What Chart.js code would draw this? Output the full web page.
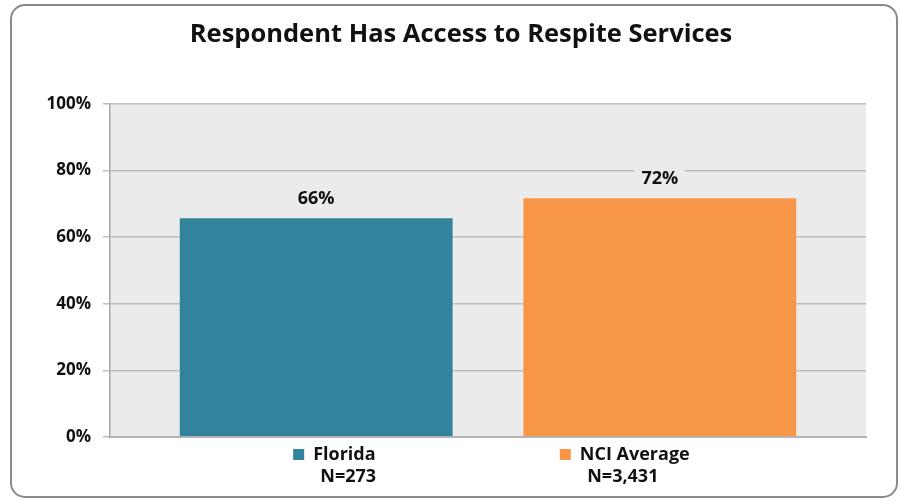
<!DOCTYPE html>
<html>
<head>
    <title>Respite services</title>
    <script src="https://cdn.jsdelivr.net/npm/chart.js@4.4.0/dist/chart.umd.min.js"></script>
    <style type="text/css">
      body { margin: 0; background: #fff; }
      #chart-container { width: 900px; height: 501px; position: relative; }
    </style>
</head>
<body>
  <div id="chart-container">
    <canvas id="mycanvas"></canvas>
  </div>
<script>
var categories = ['Florida', 'NCI Average'];
var sampleSizes = ['N=273', 'N=3,431'];
var values = [66, 72];
var barColors = ['#31849b', '#f79646'];
var yTicks = [0, 20, 40, 60, 80, 100];
var chartTitle = 'Respondent Has Access to Respite Services';

var FONT = '"Open Sans", Lato, sans-serif';

// rounded frame, title and grey plot background
var framePlugin = {
  id: 'frame',
  beforeDraw: function(chart) {
    var c = chart.ctx, a = chart.chartArea;
    c.save();
    c.fillStyle = '#ffffff';
    c.fillRect(0, 0, chart.width, chart.height);
    c.strokeStyle = '#8a8a8a';
    c.lineWidth = 2;
    c.beginPath();
    c.roundRect(11, 5, 886, 492, 14);
    c.stroke();
    c.fillStyle = '#ebebeb';
    c.fillRect(a.left, a.top, a.right - a.left, a.bottom - a.top);
    c.fillStyle = '#111';
    c.font = 'bold 25.5px ' + FONT;
    c.textAlign = 'center';
    c.textBaseline = 'middle';
    c.fillText(chartTitle, 461, 35);
    c.restore();
  }
};

// value labels over bars
var valueLabels = {
  id: 'valueLabels',
  afterDatasetsDraw: function(chart) {
    var c = chart.ctx;
    var meta = chart.getDatasetMeta(0);
    c.save();
    c.font = 'bold 18px ' + FONT;
    c.textAlign = 'center';
    c.textBaseline = 'middle';
    meta.data.forEach(function(bar, i) {
      var txt = values[i] + '%';
      var w = c.measureText(txt).width + 14;
      var y = bar.y - 18;
      c.fillStyle = '#ebebeb';
      c.fillRect(bar.x - w / 2, y - 10, w, 20);
      c.fillStyle = '#111';
      c.fillText(txt, bar.x, y);
    });
    c.restore();
  }
};

// category labels with colour key
var keyLabels = {
  id: 'keyLabels',
  afterDraw: function(chart) {
    var c = chart.ctx, x = chart.scales.x;
    var shift = [-23, -100];
    var nShift = [32, -37];
    c.save();
    c.font = 'bold 18px ' + FONT;
    c.textBaseline = 'middle';
    categories.forEach(function(cat, i) {
      var cx = x.getPixelForValue(i + 1);
      var left = cx + shift[i];
      c.fillStyle = barColors[i];
      c.fillRect(left, 449, 11, 11);
      c.fillStyle = '#111';
      c.textAlign = 'left';
      c.fillText(cat, left + 20, 455);
      c.textAlign = 'center';
      c.fillText(sampleSizes[i], cx + nShift[i], 477);
    });
    c.restore();
  }
};

var points = values.map(function(v, i) { return { x: i + 1, y: v }; });

var ctx = document.getElementById('mycanvas');

new Chart(ctx, {
  type: 'bar',
  data: {
    datasets: [{
      data: points,
      backgroundColor: barColors,
      borderColor: 'rgba(255,255,255,0.35)',
      borderWidth: 1,
      barPercentage: 0.8,
      categoryPercentage: 1
    }]
  },
  options: {
    responsive: true,
    maintainAspectRatio: false,
    animation: false,
    layout: { padding: { left: 30, right: 34, top: 104, bottom: 56 } },
    plugins: {
      legend: { display: false },
      tooltip: { enabled: false },
      title: { display: false }
    },
    scales: {
      x: {
        type: 'linear',
        offset: false,
        min: 0.4,
        max: 2.6,
        afterBuildTicks: function(axis) {
          axis.ticks = points.map(function(p) { return { value: p.x }; });
        },
        ticks: { display: false },
        grid: { display: false, offset: false },
        border: { color: '#b5b5b5', width: 2 }
      },
      y: {
        min: 0,
        max: 100,
        afterFit: function(axis) { axis.width = 80; },
        afterBuildTicks: function(axis) {
          axis.ticks = yTicks.map(function(v) { return { value: v }; });
        },
        ticks: {
          color: '#111',
          padding: 12,
          font: { family: FONT, size: 17, weight: 'bold' },
          callback: function(v) { return v + '%'; }
        },
        grid: { color: '#bdbdbd', lineWidth: 1.5, tickLength: 7 },
        border: { color: '#a8a8a8', width: 1.5 }
      }
    }
  },
  plugins: [framePlugin, valueLabels, keyLabels]
});
</script>
</body>
</html>
